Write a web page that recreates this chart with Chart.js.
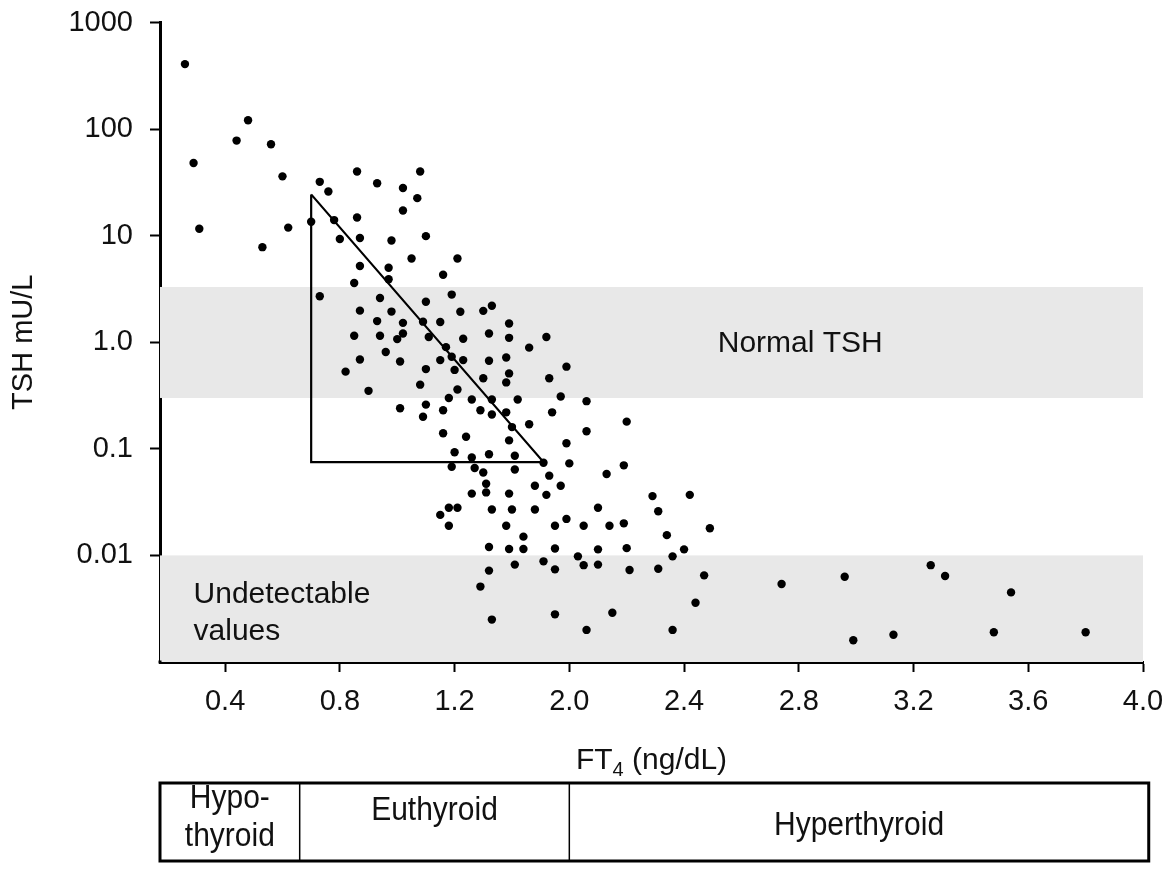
<!DOCTYPE html>
<html><head><meta charset="utf-8">
<script src="https://cdn.jsdelivr.net/npm/chart.js@4.4.1/dist/chart.umd.min.js"></script>
<style>html,body{margin:0;padding:0;background:#fff;}canvas{display:block;}</style>
</head><body>
<canvas id="c" width="1169" height="869" style="width:1169px;height:869px"></canvas>
<script>
// FT4 values are given in axis-position units (ticks are evenly spaced; labels below)
const ft4 = [
0.26,0.48,0.44,0.56,0.29,0.60,0.31,0.62,0.53,0.70,
0.73,0.76,0.86,0.93,1.02,1.08,1.07,1.02,0.86,0.78,
0.80,0.87,0.98,1.10,1.05,1.21,0.87,0.97,0.97,0.85,
1.16,0.73,0.94,1.19,1.10,0.87,0.98,1.22,1.30,1.33,
0.93,1.02,1.09,1.15,1.39,
0.85,0.94,1.00,1.02,1.11,1.23,1.32,1.39,1.52,1.46,
1.17,0.96,0.87,1.01,1.15,1.19,1.23,1.32,1.38,0.82,
1.10,1.20,1.30,1.39,1.38,1.53,1.59,0.90,1.08,1.21,
1.57,1.18,1.26,1.33,1.42,1.01,1.10,1.09,1.16,1.29,
1.33,1.38,1.54,1.40,1.46,1.16,1.24,1.39,1.59,1.20,
1.32,1.41,1.26,1.51,1.60,1.19,1.27,1.41,1.30,1.53,
1.31,1.48,1.57,1.26,1.31,1.39,1.52,1.18,1.21,1.15,
1.33,1.40,1.48,1.18,1.38,1.59,1.55,1.44,1.32,1.39,
1.44,1.55,1.41,1.51,1.32,1.55,1.29,1.33,1.55,
1.66,1.66,1.80,1.79,1.73,1.89,2.02,1.91,1.70,1.65,
1.74,1.79,2.09,1.94,1.70,1.80,2.00,1.96,1.63,1.65,
1.70,1.81,1.91,2.07,2.34,2.56,2.04,1.75,1.66,1.96,
2.59,2.73,2.86,2.91,3.14,3.08,3.40
];
const tsh = [
407,121,78,72,48,36,11.6,11.9,7.8,13.5,
32,26,40,31,28,40,22.5,17.2,14.8,14,
9.3,9.5,9.0,9.9,6.1,6.1,5.2,5.0,3.9,3.6,
4.3,2.7,2.6,2.8,2.4,1.98,1.94,1.93,1.97,2.2,
1.58,1.52,1.56,1.55,1.5,
1.15,1.15,1.07,1.21,1.12,1.08,1.21,1.10,1.12,0.89,
0.90,0.81,0.69,0.66,0.68,0.73,0.68,0.67,0.72,0.53,
0.56,0.55,0.46,0.51,0.42,0.46,0.59,0.35,0.40,0.36,
0.31,0.30,0.29,0.29,0.29,0.24,0.26,0.20,0.23,0.23,
0.21,0.22,0.22,0.16,0.17,0.14,0.13,0.12,0.113,0.093,
0.089,0.086,0.083,0.074,0.073,0.068,0.066,0.064,0.060,0.056,
0.047,0.045,0.045,0.038,0.039,0.038,0.037,0.028,0.028,0.024,
0.027,0.027,0.027,0.019,0.019,0.022,0.019,0.015,0.012,0.0115,
0.0115,0.0116,0.0082,0.0088,0.0072,0.0074,0.0051,0.0025,0.0028,
0.28,0.146,0.18,0.070,0.058,0.036,0.037,0.026,0.028,0.019,
0.019,0.020,0.018,0.0155,0.0114,0.0117,0.0114,0.0098,0.0098,0.0081,
0.0082,0.0073,0.0075,0.0065,0.0054,0.0063,0.0036,0.0029,0.0020,0.0020,
0.0016,0.0018,0.0081,0.0064,0.0045,0.0019,0.0019
];
const xTickPos = [0.4,0.8,1.2,1.6,2.0,2.4,2.8,3.2,3.6];
const xTickLabels = ['0.4','0.8','1.2','2.0','2.4','2.8','3.2','3.6','4.0'];
const yTickValues = [0.01,0.1,1,10,100,1000];
const yTickLabels = ['0.01','0.1','1.0','10','100','1000'];
const triangleFt4 = [0.70,0.70,1.51,0.70];
const triangleTsh = [24.4,0.075,0.075,24.4];
const normalTshRange = [0.3,3.3];
const undetectableRange = [0.001,0.01];
const stateLabels = [['Hypo-','thyroid'],['Euthyroid'],['Hyperthyroid']];
const stateBounds = [0.173,0.66,1.60,3.62];

const FONT = '"Liberation Sans", Arial, Helvetica, sans-serif';
const TXT = '#111';
Chart.defaults.font.family = FONT;
Chart.defaults.font.size = 29;
Chart.defaults.color = TXT;

const points = ft4.map((x,i)=>({x:x,y:tsh[i]}));
const tri = triangleFt4.map((x,i)=>({x:x,y:triangleTsh[i]}));

const decor = {
  id:'decor',
  beforeDatasetsDraw(chart){
    const {ctx, chartArea:a, scales:{x,y}} = chart;
    ctx.save();
    ctx.fillStyle = '#e8e8e8';
    [normalTshRange, undetectableRange].forEach(r=>{
      const t = y.getPixelForValue(r[1]), b = y.getPixelForValue(r[0]);
      ctx.fillRect(a.left, t, a.right-a.left, b-t);
    });
    ctx.fillStyle = TXT;
    ctx.font = '30px ' + FONT;
    ctx.textBaseline = 'alphabetic';
    ctx.textAlign = 'center';
    ctx.fillText('Normal TSH', x.getPixelForValue(2.405), y.getPixelForValue(1) + 10);
    ctx.textAlign = 'left';
    const ux = x.getPixelForValue(0.29), uy = y.getPixelForValue(0.01);
    ctx.fillText('Undetectable', ux, uy + 48);
    ctx.fillText('values', ux, uy + 85);
    ctx.restore();
  },
  afterDraw(chart){
    const {ctx, chartArea:a, scales:{x}} = chart;
    ctx.save();
    ctx.fillStyle = '#000';
    ctx.fillRect(a.left-1.5, a.bottom-1.5, 3, 3);
    // x-axis title with subscript
    const cx = (a.left + a.right)/2, base = 769;
    const big = '30px ' + FONT, small = '20px ' + FONT;
    ctx.font = big; const w1 = ctx.measureText('FT').width, w3 = ctx.measureText(' (ng/dL)').width;
    ctx.font = small; const w2 = ctx.measureText('4').width;
    let sx = cx - (w1+w2+w3)/2;
    ctx.fillStyle = TXT; ctx.textAlign = 'left'; ctx.textBaseline = 'alphabetic';
    ctx.font = big; ctx.fillText('FT', sx, base);
    ctx.font = small; ctx.fillText('4', sx + w1, base + 7);
    ctx.font = big; ctx.fillText(' (ng/dL)', sx + w1 + w2, base);
    // state table
    const top = 783, bot = 861;
    const xs = stateBounds.map(v=>x.getPixelForValue(v));
    ctx.strokeStyle = '#000';
    ctx.lineWidth = 1.5;
    for (let i=1;i<xs.length-1;i++){ ctx.beginPath(); ctx.moveTo(xs[i], top); ctx.lineTo(xs[i], bot); ctx.stroke(); }
    ctx.lineWidth = 3;
    ctx.strokeRect(xs[0], top, xs[xs.length-1]-xs[0], bot-top);
    ctx.font = '30px ' + FONT; ctx.textAlign = 'center';
    const baselines = [[808,846],[820],[835]];
    const sy = 1.12;
    stateLabels.forEach((lines,i)=>{
      const c = (xs[i]+xs[i+1])/2;
      lines.forEach((t,j)=>{
        ctx.save();
        ctx.translate(c, baselines[i][j]);
        ctx.scale(1, sy);
        ctx.fillText(t, 0, 0);
        ctx.restore();
      });
    });
    ctx.restore();
  }
};

new Chart(document.getElementById('c'), {
  type:'scatter',
  data:{datasets:[
    {data:points, backgroundColor:'#000', borderWidth:0, pointRadius:4.2, pointHoverRadius:4.2},
    {data:tri, showLine:true, borderColor:'#000', borderWidth:2.2, pointRadius:0, fill:false, tension:0}
  ]},
  options:{
    responsive:false, animation:false, events:[],
    layout:{padding:{left:0,right:26,top:22.5,bottom:0}},
    plugins:{legend:{display:false}, tooltip:{enabled:false}},
    scales:{
      x:{type:'linear', min:0.173, max:3.6,
        afterBuildTicks(s){ s.ticks = xTickPos.map(v=>({value:v})); },
        afterFit(s){ s.height = 207; s.paddingLeft = 0; s.paddingRight = 0; },
        ticks:{autoSkip:false, maxRotation:0, padding:13, color:TXT, font:{size:29},
          callback:(v,i)=>xTickLabels[i]},
        grid:{drawOnChartArea:false, drawTicks:true, tickLength:10, tickWidth:2, tickColor:'#000', color:'#000'},
        border:{display:true, color:'#000', width:3}
      },
      y:{type:'logarithmic', min:0.001, max:1000,
        afterBuildTicks(s){ s.ticks = yTickValues.map(v=>({value:v})); },
        afterFit(s){ s.width = 160; s.paddingTop = 0; s.paddingBottom = 0; },
        ticks:{autoSkip:false, padding:17, color:TXT, font:{size:29},
          callback:(v,i)=>yTickLabels[i]},
        grid:{drawOnChartArea:false, drawTicks:true, tickLength:10, tickWidth:2, tickColor:'#000', color:'#000'},
        border:{display:true, color:'#000', width:3},
        title:{display:true, text:'TSH mU/L', color:TXT, font:{size:29}, padding:{top:7,bottom:0}}
      }
    }
  },
  plugins:[decor]
});
</script>
</body></html>
